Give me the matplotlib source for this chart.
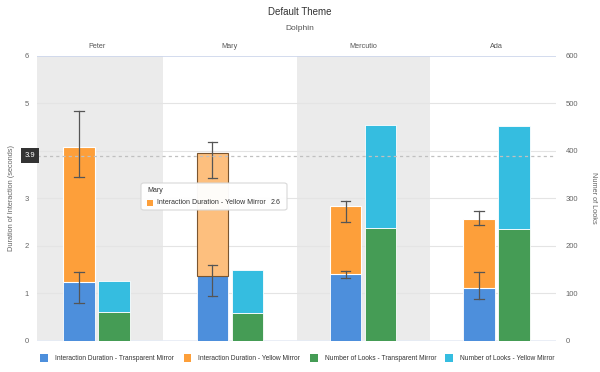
import matplotlib.pyplot as plt
from matplotlib.patches import Rectangle, FancyBboxPatch
import numpy as np

plt.rcParams['font.family'] = ['Liberation Sans', 'DejaVu Sans']

# data
names = ['Peter', 'Mary', 'Mercutio', 'Ada']
dur_transparent = [1.24, 1.36, 1.40, 1.10]
dur_yellow = [2.84, 2.60, 1.44, 1.46]
dur_transparent_err = [(0.80, 1.44), (0.94, 1.59), (1.32, 1.46), (0.88, 1.44)]
dur_yellow_err = [(3.45, 4.84), (3.43, 4.19), (2.50, 2.94), (2.44, 2.73)]
looks_transparent = [60, 58, 238, 236]
looks_yellow = [65, 91, 216, 217]
legend_labels = ['Interaction Duration - Transparent Mirror', 'Interaction Duration - Yellow Mirror',
                 'Number of Looks - Transparent Mirror', 'Number of Looks - Yellow Mirror']
crosshair_value = 3.9

c_blue = '#4d8fdc'
c_orange = '#fd9f3a'
c_green = '#459c55'
c_cyan = '#35bde0'
c_orange_hover = '#fdbf7e'
txt = '#666666'

fig = plt.figure(figsize=(6, 3.72), dpi=100)
ax = fig.add_axes([37 / 600, 31.5 / 372, 519 / 600, 284.5 / 372])
ax2 = ax.twinx()
ax.set_zorder(2)
ax2.set_zorder(1)
ax.patch.set_visible(False)
ax2.patch.set_facecolor('white')

x = np.arange(len(names))
w = 0.2375
off = 0.131

ax.set_xlim(-0.448, 3.448)
ax.set_ylim(0, 6)
ax2.set_ylim(0, 600)

# background: bands and grid on the lower axes
for i in range(len(names)):
    if i % 2 == 0:
        ax2.axvspan(i - 0.5, i + 0.5, color='#ebebeb', lw=0, zorder=0)
for v in range(100, 600, 100):
    ax2.axhline(v, color='#e4e4e4', lw=0.8, zorder=0.5)
ax2.axhline(600, color='#ccd6eb', lw=1.2, zorder=0.5)
ax2.axhline(0, color='#e6ebf5', lw=1.2, zorder=0.5)

ax.bar(x - off, dur_transparent, w, color=c_blue, edgecolor='white', lw=0.6, zorder=2)
ycols = [c_orange_hover if n == 'Mary' else c_orange for n in names]
yedges = ['#7a5530' if n == 'Mary' else 'white' for n in names]
ax.bar(x - off, dur_yellow, w, bottom=dur_transparent, color=ycols, edgecolor=yedges, lw=0.8, zorder=2)

ax2.bar(x + off, looks_transparent, w, color=c_green, edgecolor='white', lw=0.6, zorder=2)
ax2.bar(x + off, looks_yellow, w, bottom=looks_transparent, color=c_cyan, edgecolor='white', lw=0.6, zorder=2)

for i in range(len(names)):
    for lo, hi in (dur_transparent_err[i], dur_yellow_err[i]):
        ax.plot([i - off, i - off], [lo, hi], color='#555555', lw=0.9, zorder=3)
        for yy in (lo, hi):
            ax.plot([i - off - 0.036, i - off + 0.036], [yy, yy], color='#555555', lw=0.9, zorder=3)

# crosshair
ax.axhline(crosshair_value, color='#c0c0c0', lw=0.9, ls=(0, (2.5, 2.5)), zorder=4)
ax.text(-0.458, crosshair_value, str(crosshair_value), color='white', fontsize=5.5, ha='right', va='center',
        bbox=dict(boxstyle='square,pad=0.5', fc='#333333', ec='none'), zorder=6, clip_on=False)

for a in (ax, ax2):
    for s in a.spines.values():
        s.set_visible(False)
    a.tick_params(length=0, labelsize=5.5, labelcolor=txt)

ax.set_xticks([])
ax.set_yticks(range(0, 7))
ax2.set_yticks(range(0, 601, 100))
ax.tick_params(axis='y', pad=6)
ax2.tick_params(axis='y', pad=7)
for i, n in enumerate(names):
    ax.text(i, 6.12, n, ha='center', va='bottom', fontsize=5.2, color='#555555')

fig.text(12 / 600, 1 - 198 / 372, 'Duration of Interaction (seconds)', fontsize=5.3, color=txt,
         rotation=90, ha='center', va='center')
fig.text(594 / 600, 1 - 198 / 372, 'Numer of Looks', fontsize=5.3, color=txt,
         rotation=-90, ha='center', va='center')

fig.text(0.5, 1 - 12 / 372, 'Default Theme', ha='center', va='center', fontsize=7, color='#333333')
fig.text(0.5, 1 - 29 / 372, 'Dolphin', ha='center', va='center', fontsize=6, color='#555555')

# tooltip
tb = FancyBboxPatch((141 / 600, 1 - 210 / 372), 146 / 600, 27 / 372, boxstyle='round,pad=0,rounding_size=0.005',
                    transform=fig.transFigure, fc='white', ec='#d6d6d6', lw=0.8, alpha=0.96, zorder=10)
fig.add_artist(tb)
fig.text(147 / 600, 1 - 191 / 372, 'Mary', fontsize=5, color='#333333', va='center', zorder=11)
fig.add_artist(Rectangle((147 / 600, 1 - 206 / 372), 6 / 600, 6 / 372, transform=fig.transFigure,
                         fc=c_orange, ec='none', zorder=11))
fig.text(157 / 600, 1 - 203 / 372, legend_labels[1], fontsize=5, color='#333333', va='center', zorder=11)
fig.text(280 / 600, 1 - 203 / 372, '2.6', fontsize=5, color='#333333', va='center', ha='right', zorder=11)

# legend
leg_x = [44, 187.5, 313.8, 448.5]
leg_cols = [c_blue, c_orange, c_green, c_cyan]
for lx, lab, col in zip(leg_x, legend_labels, leg_cols):
    fig.add_artist(Rectangle(((lx - 4) / 600, 1 - 362 / 372), 8 / 600, 8 / 372, transform=fig.transFigure,
                             fc=col, ec='none'))
    fig.text((lx + 11) / 600, 1 - 358 / 372, lab, fontsize=4.8, color='#333333', va='center')

fig.savefig('out.png', dpi=100, facecolor='white')
